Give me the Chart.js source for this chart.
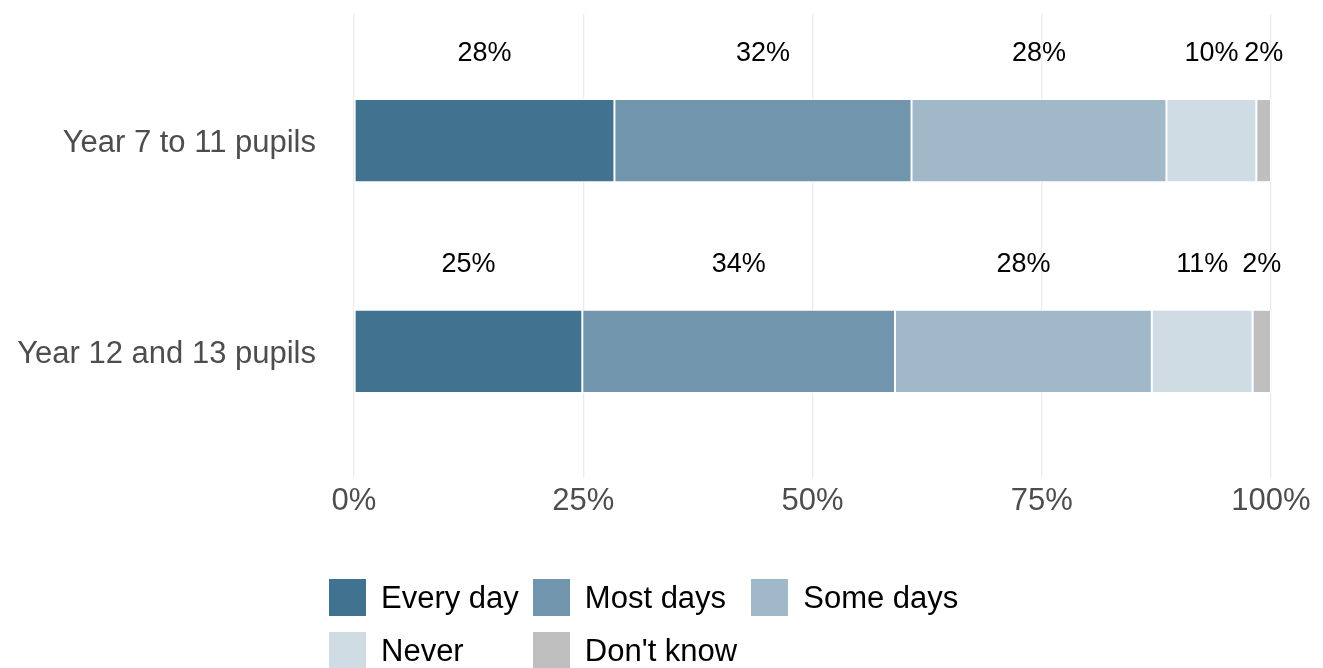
<!DOCTYPE html>
<html>
<head>
<meta charset="utf-8">
<script src="https://cdn.jsdelivr.net/npm/chart.js@4"></script>
<style>
  html, body { margin: 0; padding: 0; background: #fff; }
  #wrap { position: relative; width: 1323px; height: 668px; overflow: hidden; }
  #c { position: absolute; left: 0; top: 0; }
  #legend {
    position: absolute; left: 329px; top: 579px;
    display: grid; grid-template-columns: auto auto auto;
    column-gap: 14px; row-gap: 16px;
    font-family: "Liberation Sans", Arial, sans-serif; font-size: 31px; color: #000;
  }
  .item { display: flex; align-items: center; height: 37px; }
  .box { width: 37px; height: 37px; margin-right: 15px; flex: none; }
  .lbl { line-height: 37px; white-space: nowrap; }
</style>
</head>
<body>
<div id="wrap">
  <canvas id="c" width="1323" height="668"></canvas>
  <div id="legend"></div>
</div>
<script>
const categories = ['Year 7 to 11 pupils', 'Year 12 and 13 pupils'];
const seriesNames = ['Every day', 'Most days', 'Some days', 'Never', "Don't know"];
const everyDay = [28.4, 24.9];
const mostDays = [32.4, 34.1];
const someDays = [27.8, 28.0];
const never = [9.8, 11.0];
const dontKnow = [1.6, 2.0];
const xTicks = [0, 25, 50, 75, 100];
const colors = ['#41728f', '#7195ad', '#a1b8c8', '#cfdce4', '#bfbfbf'];

const seriesValues = [everyDay, mostDays, someDays, never, dontKnow];
const FONT = '"Liberation Sans", Arial, sans-serif';

const datasets = seriesValues.map((vals, i) => ({
  label: seriesNames[i],
  data: vals.map((v, j) => ({ x: v, y: j + 1 })),
  backgroundColor: colors[i],
  borderColor: '#ffffff',
  borderWidth: 1,
  borderSkipped: false,
  categoryPercentage: 1,
  barPercentage: 0.395
}));

const labelPlugin = {
  id: 'segLabels',
  afterDatasetsDraw(chart) {
    const ctx = chart.ctx;
    const yScale = chart.scales.y;
    ctx.save();
    ctx.font = '27px ' + FONT;
    ctx.fillStyle = '#000';
    ctx.textAlign = 'center';
    ctx.textBaseline = 'middle';
    chart.data.datasets.forEach((ds, i) => {
      const meta = chart.getDatasetMeta(i);
      meta.data.forEach((bar, j) => {
        const p = ds.data[j];
        const cx = (bar.x + bar.base) / 2;
        const cy = yScale.getPixelForValue(p.y - 0.414);
        ctx.fillText(Math.round(p.x) + '%', cx, cy);
      });
    });
    ctx.restore();
  }
};

new Chart(document.getElementById('c'), {
  type: 'bar',
  data: { datasets },
  options: {
    indexAxis: 'y',
    responsive: false,
    animation: false,
    layout: { padding: { left: 0, right: 52, top: 14, bottom: 0 } },
    plugins: { legend: { display: false }, tooltip: { enabled: false } },
    scales: {
      x: {
        type: 'linear', stacked: true, min: 0, max: 100,
        grid: { color: '#ebebeb', lineWidth: 1.3, drawTicks: false, tickLength: 0 },
        border: { display: false },
        afterBuildTicks(s) { s.ticks = xTicks.map(v => ({ value: v })); },
        ticks: {
          autoSkip: false, padding: 5, maxRotation: 0,
          color: '#4d4d4d', font: { family: FONT, size: 31 },
          callback: v => v + '%'
        },
        afterFit(s) { s.height = 190; s.paddingLeft = 0; s.paddingRight = 0; }
      },
      y: {
        type: 'linear', stacked: true, min: 0.4, max: 2.6, reverse: true,
        offset: false,
        grid: { display: false, drawTicks: false, tickLength: 0, offset: false },
        border: { display: false },
        afterBuildTicks(s) { s.ticks = categories.map((c, i) => ({ value: i + 1 })); },
        ticks: {
          autoSkip: false, padding: 38, labelOffset: 3,
          color: '#4d4d4d', font: { family: FONT, size: 31 },
          callback: v => categories[Math.round(v) - 1]
        },
        afterFit(s) { s.width = 354; s.paddingTop = 0; s.paddingBottom = 0; }
      }
    }
  },
  plugins: [labelPlugin]
});

const legend = document.getElementById('legend');
seriesNames.forEach((name, i) => {
  const item = document.createElement('div');
  item.className = 'item';
  const box = document.createElement('div');
  box.className = 'box';
  box.style.background = colors[i];
  const lbl = document.createElement('span');
  lbl.className = 'lbl';
  lbl.textContent = name;
  item.appendChild(box);
  item.appendChild(lbl);
  legend.appendChild(item);
});
</script>
</body>
</html>
